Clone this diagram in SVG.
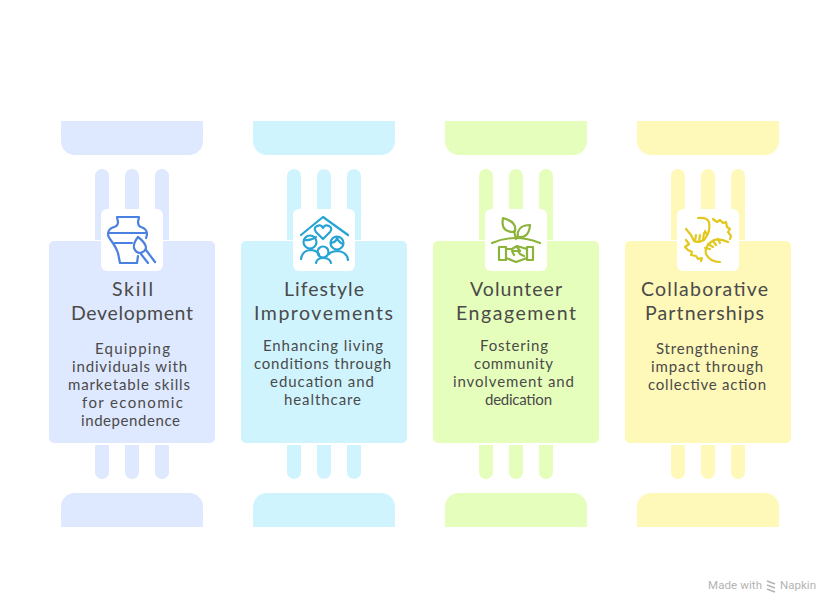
<svg xmlns="http://www.w3.org/2000/svg" xmlns:xlink="http://www.w3.org/1999/xlink" width="840" height="612" viewBox="0 0 840 612">
<style>
.title{font:19.5px Lato,"Open Sans",sans-serif;fill:#4a4a4a;text-anchor:middle}
.body{font:15px Lato,"Open Sans",sans-serif;fill:#4a4a4a;text-anchor:middle}
.box{fill:#fff}
.ic{fill:none;stroke-width:2.200;stroke-linecap:round;stroke-linejoin:round}
.blue{fill:#deE8fe}.cyan{fill:#d0f4fe}.green{fill:#e6febb}.yellow{fill:#fef8b9}
.mark{font:11.5px Roboto,"Liberation Sans",sans-serif;fill:#b4b4b4}
</style>
<defs>
<g id="column">
<path d="M61 121H203V141A14 14 0 0 1 189 155H75A14 14 0 0 1 61 141Z"/>
<path d="M95 240V176A7 7 0 0 1 109 176V240ZM125 240V176A7 7 0 0 1 139 176V240ZM155 240V176A7 7 0 0 1 169 176V240Z"/>
<rect x="49" y="241" width="166" height="202" rx="5"/>
<path d="M95 445V472A7 7 0 0 0 109 472V445ZM125 445V472A7 7 0 0 0 139 472V445ZM155 445V472A7 7 0 0 0 169 472V445Z"/>
<path d="M61 527H203V507A14 14 0 0 0 189 493H75A14 14 0 0 0 61 507Z"/>
<rect class="box" x="101" y="209" width="62" height="62" rx="6"/>
</g>
</defs>
<rect width="840" height="612" fill="#fff"/>

<g id="skill-development">
<use href="#column" class="blue"/>
<g class="ic" stroke="#4a80e0">
<path d="M117 217H139L138 222Q138 226 141 227Q147 229 147 234Q147 236 146 238M117 217L118 222Q118 226 114 227Q108 229 108 234Q108 237 110 239Q116 247 118 253L120 263H137L138 256M108 233H147M115 243H132"/>
<path d="M138 237Q133 243 134 248Q136 253 140 253Q145 252 146 248Q146 243 138 237Z"/>
<path d="M141 254L148 263M146 250L155 262"/>
</g>
<text class="title"><tspan x="132.500" y="296" textLength="41">Skill</tspan><tspan x="132" y="320" textLength="122">Development</tspan></text>
<text class="body"><tspan x="132.500" y="354" textLength="75">Equipping</tspan><tspan x="129.500" y="372" textLength="115">individuals with</tspan><tspan x="129" y="390" textLength="122">marketable skills</tspan><tspan x="132.500" y="408" textLength="101">for economic</tspan><tspan x="130.500" y="426" textLength="99">independence</tspan></text>
</g>

<g id="lifestyle-improvements">
<use href="#column" class="cyan" x="192"/>
<g class="ic" stroke="#27a3d4">
<path d="M301 235L323 217L348 235"/>
<path d="M323 239L316 232Q313 228 317 226Q321 224 323 228Q325 224 329 226Q333 228 330 232Z"/>
<circle cx="310" cy="242" r="6.500"/><path d="M304 240Q311 241 316 237"/>
<path d="M301 259Q302 251 310 250Q316 250 319 254"/>
<circle cx="337" cy="243" r="6.500"/><path d="M331 243Q337 242 337 237Q338 242 343 244"/>
<path d="M348 260Q347 252 338 251Q332 251 329 254"/>
<circle cx="323" cy="252" r="5.500"/>
<path d="M316 263Q317 258 323 258Q330 258 331 263"/>
</g>
<text class="title"><tspan x="324" y="296" textLength="80">Lifestyle</tspan><tspan x="323.500" y="320" textLength="139">Improvements</tspan></text>
<text class="body"><tspan x="323" y="351" textLength="120">Enhancing living</tspan><tspan x="322.500" y="369" textLength="137">conditions through</tspan><tspan x="322" y="387" textLength="104">education and</tspan><tspan x="322.500" y="405" textLength="77">healthcare</tspan></text>
</g>

<g id="volunteer-engagement">
<use href="#column" class="green" x="384"/>
<g class="ic" stroke="#8cb33a">
<path d="M503 218Q501 229 508 231Q514 233 515 231Q517 222 503 218Z"/>
<path d="M530 225Q520 225 518 232Q517 237 519 237Q529 238 530 225Z"/>
<path d="M514 231L516 239M518 236L516 239"/>
<path d="M492 243Q515 233 540 243"/>
<path d="M499 247H506V260H499ZM527 247H533V260H527Z"/>
<path d="M506 249L512 249L517 246L527 249M506 258L516 262L527 258M514 255L512 251L518 251L520 254L524 256M517 247L520 251"/>
</g>
<text class="title"><tspan x="516" y="296" textLength="92">Volunteer</tspan><tspan x="516" y="320" textLength="120">Engagement</tspan></text>
<text class="body"><tspan x="514" y="351" textLength="68">Fostering</tspan><tspan x="513.500" y="369" textLength="79">community</tspan><tspan x="513.500" y="387" textLength="121">involvement and</tspan><tspan x="518.500" y="405" textLength="67">dedication</tspan></text>
</g>

<g id="collaborative-partnerships">
<use href="#column" class="yellow" x="576"/>
<g class="ic" stroke="#e2c81e">
<path d="M698 218Q707 217 709 222Q711 232 704 240Q698 243 694 241L691 235L686 229"/>
<path d="M695 241L696 235M699 242L700 235M703 240L704 233M707 235L705 231"/>
<path d="M713 219L717 222L720 220L723 223L726 222L727 227L730 229L728 232L731 236L730 239"/>
<path d="M728 242Q720 238 714 240Q704 246 706 254Q710 262 720 262"/>
<path d="M705 248L710 249M708 244L713 247M713 241L716 245M718 239L720 243"/>
<path d="M686 240L689 244L685 247L688 250L692 252L691 255L696 256L698 259L702 258L701 261"/>
</g>
<text class="title"><tspan x="704.500" y="296" textLength="127">Collaborative</tspan><tspan x="704.500" y="320" textLength="119">Partnerships</tspan></text>
<text class="body"><tspan x="707" y="354" textLength="102">Strengthening</tspan><tspan x="707" y="372" textLength="112">impact through</tspan><tspan x="707" y="390" textLength="118">collective action</tspan></text>
</g>

<g id="watermark">
<text class="mark" x="708" y="589" textLength="54">Made with</text>
<path d="M767 581L775 584M767 585L775 588M767 589L775 592" fill="none" stroke="#b4b4b4" stroke-width="1.500"/>
<text class="mark" x="780" y="589" textLength="36">Napkin</text>
</g>
</svg>
